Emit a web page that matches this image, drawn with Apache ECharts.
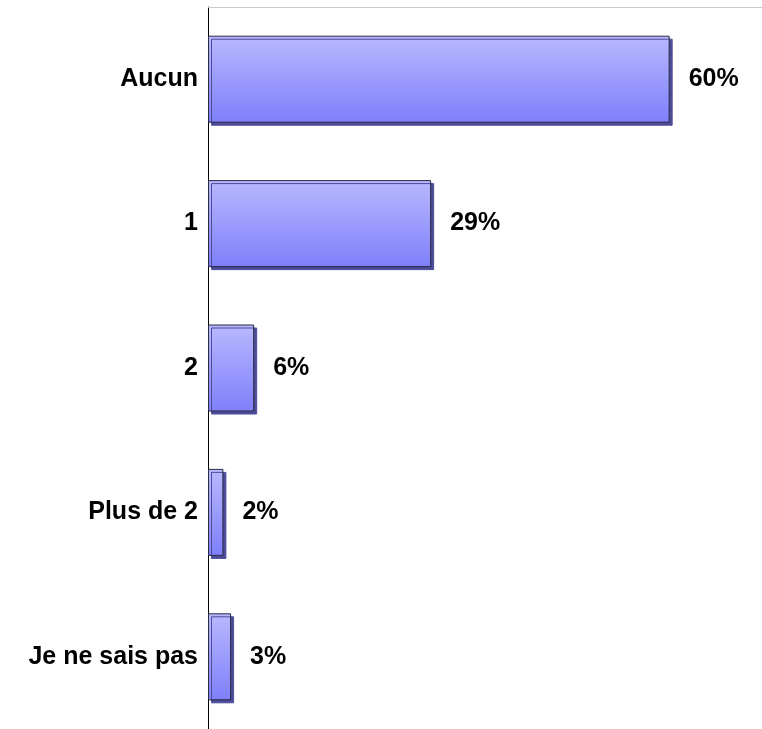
<!DOCTYPE html>
<html>
<head>
<meta charset="utf-8">
<script src="https://cdn.jsdelivr.net/npm/echarts@6/dist/echarts.min.js"></script>
<style>
  html, body { margin: 0; padding: 0; background: #fff; }
  #chart { width: 762px; height: 729px; }
</style>
</head>
<body>
<div id="chart"></div>
<script>
  // data
  var categories = ['Aucun', '1', '2', 'Plus de 2', 'Je ne sais pas'];
  var values = [60, 29, 6, 2, 3];

  var chart = echarts.init(document.getElementById('chart'));
  chart.setOption({
    animation: false,
    grid: { left: 208, right: 0, top: 7, bottom: 0 },
    xAxis: {
      type: 'value',
      position: 'top',
      min: 0,
      max: 72,
      axisLine: { show: true, lineStyle: { color: '#c8c8c8', width: 1 } },
      axisTick: { show: false },
      axisLabel: { show: false },
      splitLine: { show: false }
    },
    yAxis: {
      type: 'category',
      inverse: true,
      data: categories,
      axisLine: { show: true, lineStyle: { color: '#000', width: 1 } },
      axisTick: { show: false },
      axisLabel: {
        margin: 10,
        color: '#000',
        fontFamily: 'Liberation Sans, Arial, sans-serif',
        fontWeight: 'bold',
        fontSize: 25
      }
    },
    series: [{
      type: 'bar',
      data: values,
      barWidth: 87,
      itemStyle: {
        color: new echarts.graphic.LinearGradient(0, 0, 0, 1, [
          { offset: 0, color: '#b8b8ff' },
          { offset: 1, color: '#7f7ffb' }
        ]),
        borderColor: '#2a2a40',
        borderWidth: 1,
        shadowColor: '#4c4c9a',
        shadowOffsetX: 3,
        shadowOffsetY: 3,
        shadowBlur: 0
      },
      label: {
        show: true,
        position: 'right',
        distance: 19,
        formatter: '{c}%',
        color: '#000',
        fontFamily: 'Liberation Sans, Arial, sans-serif',
        fontWeight: 'bold',
        fontSize: 25
      }
    }]
  });
</script>
</body>
</html>
